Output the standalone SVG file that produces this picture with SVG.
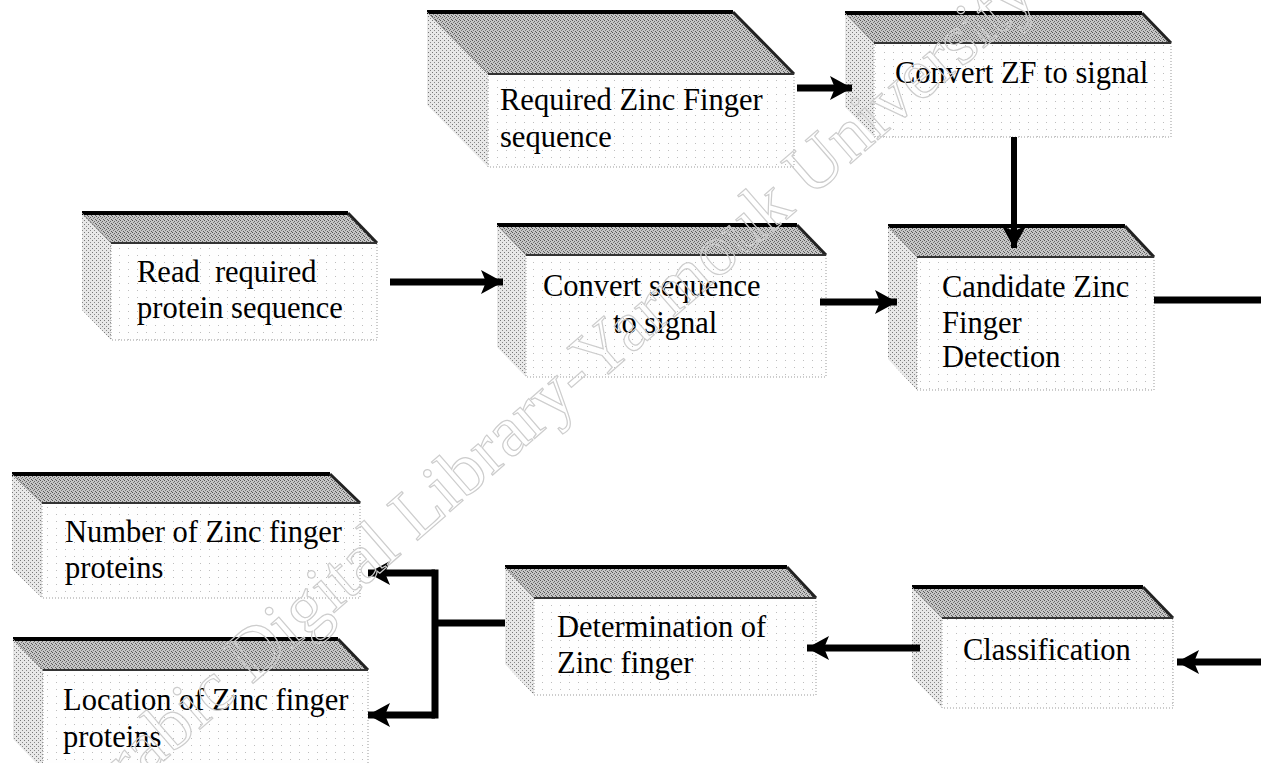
<svg xmlns="http://www.w3.org/2000/svg" width="1261" height="763" viewBox="0 0 1261 763">
<defs>
<pattern id="texTop" width="4" height="4" patternUnits="userSpaceOnUse">
<rect width="4" height="4" fill="#c6c6c6"/>
<rect x="0" y="0" width="1" height="1" fill="#555"/>
<rect x="2" y="1" width="1" height="1" fill="#666"/>
<rect x="1" y="2" width="1" height="1" fill="#777"/>
<rect x="3" y="3" width="1" height="1" fill="#5a5a5a"/>
</pattern>
<pattern id="texSide" width="4" height="4" patternUnits="userSpaceOnUse">
<rect width="4" height="4" fill="#e8e8e8"/>
<rect x="0" y="0" width="1" height="1" fill="#777"/>
<rect x="2" y="2" width="1" height="1" fill="#888"/>
</pattern>
<pattern id="texFront" width="9" height="7" patternUnits="userSpaceOnUse">
<rect width="9" height="7" fill="#fefefe"/>
<rect x="2" y="3" width="1" height="1" fill="#bdbdbd"/>
</pattern>
<marker id="ah" markerUnits="userSpaceOnUse" markerWidth="24" markerHeight="26" refX="22" refY="13" orient="auto">
<path d="M0,1 L22,13 L0,25 L5,13 Z" fill="#000"/>
</marker>
<style>
.lbl{font-family:"Liberation Serif","Times New Roman",serif;font-size:30.5px;fill:#000;white-space:pre}
.top{fill:url(#texTop)}
.side{fill:url(#texSide)}
.front{fill:url(#texFront);stroke:#9a9a9a;stroke-width:1;stroke-dasharray:1 2}
.e1{stroke:#000;stroke-width:4;fill:none}
.e2{stroke:#222;stroke-width:3;fill:none}
.e3{stroke:#333;stroke-width:2;fill:none}
.e4{stroke:#888;stroke-width:1;fill:none}
.conn{stroke:#000;stroke-width:7;fill:none}
.wm{font-family:"Liberation Serif","Times New Roman",serif;font-size:72px;fill:none;stroke:#cdcdcd;stroke-width:1.2}
</style>
</defs>
<rect width="1261" height="763" fill="#fff"/>

<g id="n-required">
<polygon class="side" points="427,12 488,74 488,167 427,105"/>
<rect class="front" x="488" y="74" width="306" height="93"/>
<polygon class="top" points="427,12 733,12 794,74 488,74"/>
<path class="e1" d="M427,12 H733"/><path class="e2" d="M733,12 L794,74"/><path class="e3" d="M488,74 H794"/><path class="e4" d="M427,12 L488,74"/>
<text class="lbl" x="500" y="110">Required Zinc Finger</text>
<text class="lbl" x="500" y="147">sequence</text>
</g>

<g id="n-convertzf">
<polygon class="side" points="845,13 874,43 874,137 845,107"/>
<rect class="front" x="874" y="43" width="297" height="94"/>
<polygon class="top" points="845,13 1142,13 1171,43 874,43"/>
<path class="e1" d="M845,13 H1142"/><path class="e2" d="M1142,13 L1171,43"/><path class="e3" d="M874,43 H1171"/><path class="e4" d="M845,13 L874,43"/>
<text class="lbl" x="895" y="83">Convert ZF to signal</text>
</g>

<g id="n-read">
<polygon class="side" points="82,213 111,243 111,340 82,310"/>
<rect class="front" x="111" y="243" width="266" height="97"/>
<polygon class="top" points="82,213 348,213 377,243 111,243"/>
<path class="e1" d="M82,213 H348"/><path class="e2" d="M348,213 L377,243"/><path class="e3" d="M111,243 H377"/><path class="e4" d="M82,213 L111,243"/>
<text class="lbl" x="137" y="282">Read  required</text>
<text class="lbl" x="137" y="318">protein sequence</text>
</g>

<g id="n-convertseq">
<polygon class="side" points="497,225 526,255 526,377 497,347"/>
<rect class="front" x="526" y="255" width="300" height="122"/>
<polygon class="top" points="497,225 797,225 826,255 526,255"/>
<path class="e1" d="M497,225 H797"/><path class="e2" d="M797,225 L826,255"/><path class="e3" d="M526,255 H826"/><path class="e4" d="M497,225 L526,255"/>
<text class="lbl" x="543" y="296">Convert sequence</text>
<text class="lbl" x="613" y="333">to signal</text>
</g>

<g id="n-candidate">
<polygon class="side" points="888,226 917,257 917,390 888,359"/>
<rect class="front" x="917" y="257" width="237" height="133"/>
<polygon class="top" points="888,226 1125,226 1154,257 917,257"/>
<path class="e1" d="M888,226 H1125"/><path class="e2" d="M1125,226 L1154,257"/><path class="e3" d="M917,257 H1154"/><path class="e4" d="M888,226 L917,257"/>
<text class="lbl" x="942" y="297">Candidate Zinc</text>
<text class="lbl" x="942" y="333">Finger</text>
<text class="lbl" x="942" y="367">Detection</text>
</g>

<g id="n-number">
<polygon class="side" points="12,474 42,503 42,598 12,569"/>
<rect class="front" x="42" y="503" width="318" height="95"/>
<polygon class="top" points="12,474 330,474 360,503 42,503"/>
<path class="e1" d="M12,474 H330"/><path class="e2" d="M330,474 L360,503"/><path class="e3" d="M42,503 H360"/><path class="e4" d="M12,474 L42,503"/>
<text class="lbl" x="65" y="542">Number of Zinc finger</text>
<text class="lbl" x="65" y="578">proteins</text>
</g>

<g id="n-location">
<polygon class="side" points="13,639 43,670 43,770 13,739"/>
<rect class="front" x="43" y="670" width="325" height="100"/>
<polygon class="top" points="13,639 338,639 368,670 43,670"/>
<path class="e1" d="M13,639 H338"/><path class="e2" d="M338,639 L368,670"/><path class="e3" d="M43,670 H368"/><path class="e4" d="M13,639 L43,670"/>
<text class="lbl" x="63" y="710">Location of Zinc finger</text>
<text class="lbl" x="63" y="747">proteins</text>
</g>

<g id="n-determination">
<polygon class="side" points="505,567 534,598 534,695 505,664"/>
<rect class="front" x="534" y="598" width="282" height="97"/>
<polygon class="top" points="505,567 787,567 816,598 534,598"/>
<path class="e1" d="M505,567 H787"/><path class="e2" d="M787,567 L816,598"/><path class="e3" d="M534,598 H816"/><path class="e4" d="M505,567 L534,598"/>
<text class="lbl" x="557" y="637">Determination of</text>
<text class="lbl" x="557" y="673">Zinc finger</text>
</g>

<g id="n-classification">
<polygon class="side" points="912,587 942,618 942,708 912,677"/>
<rect class="front" x="942" y="618" width="231" height="90"/>
<polygon class="top" points="912,587 1143,587 1173,618 942,618"/>
<path class="e1" d="M912,587 H1143"/><path class="e2" d="M1143,587 L1173,618"/><path class="e3" d="M942,618 H1173"/><path class="e4" d="M912,587 L942,618"/>
<text class="lbl" x="963" y="660">Classification</text>
</g>

<g id="connectors">
<path class="conn" d="M797,88 H852" marker-end="url(#ah)"/>
<path class="conn" d="M390,282 H503" marker-end="url(#ah)"/>
<path class="conn" d="M820,302 H897" marker-end="url(#ah)"/>
<path class="conn" style="stroke-width:6" d="M1014,137 V248" marker-end="url(#ah)"/>
<path class="conn" d="M1154,300 H1261"/>
<path class="conn" d="M1261,662 H1177" marker-end="url(#ah)"/>
<path class="conn" d="M920,648 H807" marker-end="url(#ah)"/>
<path class="conn" d="M505,623 H435"/>
<path class="conn" d="M435,573 V715" stroke-linecap="square"/>
<path class="conn" d="M435,573 H368" marker-end="url(#ah)"/>
<path class="conn" d="M435,715 H368" marker-end="url(#ah)"/>
</g>

<text class="wm" transform="translate(90,825) rotate(-41)">Arabic Digital Library-Yarmouk University</text>
</svg>
